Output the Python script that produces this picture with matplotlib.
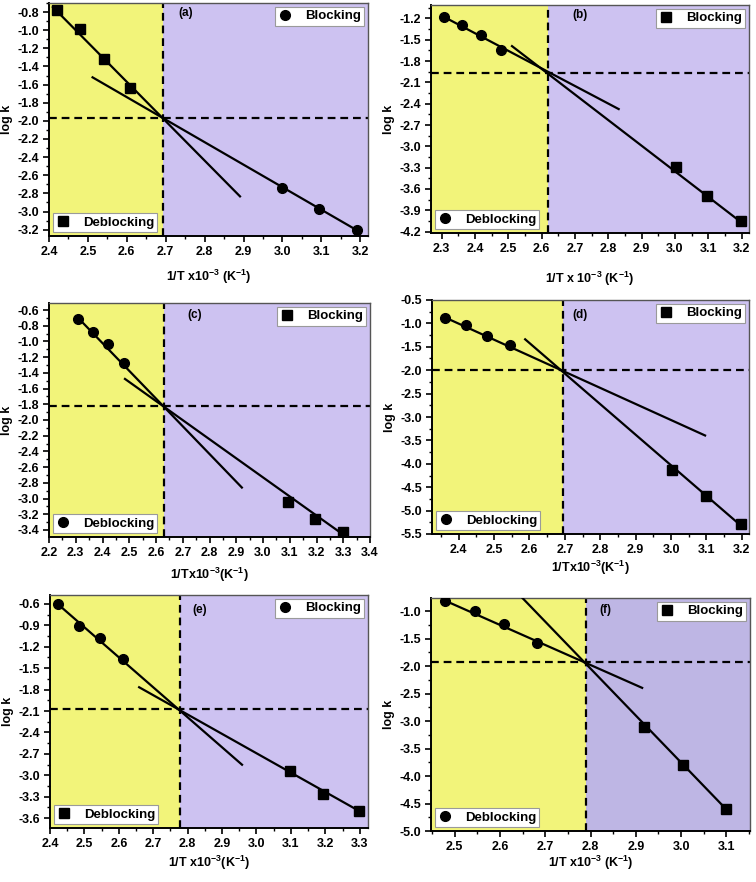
import matplotlib
matplotlib.use('Agg')
import matplotlib.pyplot as plt
from matplotlib.ticker import MultipleLocator, FormatStrFormatter
from matplotlib.lines import Line2D

plt.rcParams['font.family'] = ['Liberation Sans', 'DejaVu Sans']
plt.rcParams['font.weight'] = 'bold'
plt.rcParams['axes.unicode_minus'] = False
plt.rcParams['mathtext.fontset'] = 'custom'
plt.rcParams['mathtext.bf'] = 'Liberation Sans:bold'
plt.rcParams['mathtext.rm'] = 'Liberation Sans:bold'
plt.rcParams['mathtext.default'] = 'bf'

# ---- data ----
# (a)
a_left_x = [2.42, 2.479, 2.542, 2.609]
a_left_y = [-0.78, -0.99, -1.316, -1.642]
a_right_x = [2.998, 3.093, 3.191]
a_right_y = [-2.741, -2.972, -3.207]
a_fit1_x = [2.41, 2.891]
a_fit1_y = [-0.745, -2.833]
a_fit2_x = [2.512, 3.196]
a_fit2_y = [-1.52, -3.218]
a_cross = (2.694, -1.972)

# (b)
b_left_x = [2.306, 2.361, 2.419, 2.477]
b_left_y = [-1.177, -1.298, -1.439, -1.65]
b_right_x = [3.004, 3.097, 3.197]
b_right_y = [-3.295, -3.694, -4.045]
b_fit1_x = [2.306, 2.831]
b_fit1_y = [-1.175, -2.475]
b_fit2_x = [2.511, 3.199]
b_fit2_y = [-1.589, -4.07]
b_cross = (2.619, -1.964)

# (c)
c_left_x = [2.309, 2.365, 2.421, 2.481]
c_left_y = [-0.711, -0.881, -1.026, -1.268]
c_right_x = [3.094, 3.194, 3.3]
c_right_y = [-3.038, -3.26, -3.421]
c_fit1_x = [2.309, 2.921]
c_fit1_y = [-0.70, -2.86]
c_fit2_x = [2.484, 3.3]
c_fit2_y = [-1.477, -3.46]
c_cross = (2.631, -1.817)

# (d)
d_left_x = [2.363, 2.42, 2.479, 2.545]
d_left_y = [-0.877, -1.034, -1.269, -1.462]
d_right_x = [3.004, 3.098, 3.197]
d_right_y = [-4.127, -4.682, -5.287]
d_fit1_x = [2.363, 3.096]
d_fit1_y = [-0.877, -3.395]
d_fit2_x = [2.588, 3.197]
d_fit2_y = [-1.34, -5.32]
d_cross = (2.696, -1.994)

# (e)
e_left_x = [2.424, 2.485, 2.545, 2.613]
e_left_y = [-0.605, -0.903, -1.08, -1.37]
e_right_x = [3.097, 3.194, 3.298]
e_right_y = [-2.947, -3.26, -3.507]
e_fit1_x = [2.42, 2.958]
e_fit1_y = [-0.59, -2.853]
e_fit2_x = [2.659, 3.305]
e_fit2_y = [-1.767, -3.52]
e_cross = (2.778, -2.074)

# (f)
f_left_x = [2.479, 2.544, 2.61, 2.681]
f_left_y = [-0.806, -1.0, -1.224, -1.576]
f_right_x = [2.917, 3.004, 3.099]
f_right_y = [-3.109, -3.8, -4.594]
f_fit1_x = [2.479, 2.914]
f_fit1_y = [-0.806, -2.394]
f_fit2_x = [2.65, 3.099]
f_fit2_y = [-0.76, -4.6]
f_cross = (2.79, -1.927)

panels = [
    dict(tag='(a)', lx=a_left_x, ly=a_left_y, rx=a_right_x, ry=a_right_y,
         f1x=a_fit1_x, f1y=a_fit1_y, f2x=a_fit2_x, f2y=a_fit2_y, cross=a_cross,
         lm='s', rm='o', llab='Deblocking', rlab='Blocking',
         xlim=(2.4, 3.22), ylim=(-3.27, -0.70), ystep=0.2,
         xlabel='1/T x10$^{-3}$ (K$^{-1}$)', lpad=7,
         pos=(49, 368, 3, 236), tagx=0.43, tagy=0.955, purple='#CDC2F1'),
    dict(tag='(b)', lx=b_left_x, ly=b_left_y, rx=b_right_x, ry=b_right_y,
         f1x=b_fit1_x, f1y=b_fit1_y, f2x=b_fit2_x, f2y=b_fit2_y, cross=b_cross,
         lm='o', rm='s', llab='Deblocking', rlab='Blocking',
         xlim=(2.268, 3.222), ylim=(-4.22, -1.01), ystep=0.3,
         xlabel='1/T x 10$^{-3}$ (K$^{-1}$)', lpad=11,
         pos=(431, 749, 5, 233), tagx=0.47, tagy=0.955, purple='#CDC2F1'),
    dict(tag='(c)', lx=c_left_x, ly=c_left_y, rx=c_right_x, ry=c_right_y,
         f1x=c_fit1_x, f1y=c_fit1_y, f2x=c_fit2_x, f2y=c_fit2_y, cross=c_cross,
         lm='o', rm='s', llab='Deblocking', rlab='Blocking',
         xlim=(2.2, 3.40), ylim=(-3.49, -0.51), ystep=0.2,
         xlabel='1/Tx10$^{-3}$(K$^{-1}$)', lpad=5,
         pos=(49, 370, 303, 537), tagx=0.455, tagy=0.95, purple='#CDC2F1'),
    dict(tag='(d)', lx=d_left_x, ly=d_left_y, rx=d_right_x, ry=d_right_y,
         f1x=d_fit1_x, f1y=d_fit1_y, f2x=d_fit2_x, f2y=d_fit2_y, cross=d_cross,
         lm='o', rm='s', llab='Deblocking', rlab='Blocking',
         xlim=(2.325, 3.22), ylim=(-5.5, -0.5), ystep=0.5,
         xlabel='1/Tx10$^{-3}$(K$^{-1}$)', lpad=2,
         pos=(432, 749, 300, 534), tagx=0.466, tagy=0.935, purple='#CDC2F1'),
    dict(tag='(e)', lx=e_left_x, ly=e_left_y, rx=e_right_x, ry=e_right_y,
         f1x=e_fit1_x, f1y=e_fit1_y, f2x=e_fit2_x, f2y=e_fit2_y, cross=e_cross,
         lm='o', rm='s', llab='Blocking', rlab='Deblocking',
         xlim=(2.4, 3.324), ylim=(-3.74, -0.474), ystep=0.3,
         xlabel='1/T x10$^{-3}$(K$^{-1}$)', lpad=3,
         pos=(50, 368, 595, 828), tagx=0.47, tagy=0.935, purple='#CDC2F1'),
    dict(tag='(f)', lx=f_left_x, ly=f_left_y, rx=f_right_x, ry=f_right_y,
         f1x=f_fit1_x, f1y=f_fit1_y, f2x=f_fit2_x, f2y=f_fit2_y, cross=f_cross,
         lm='o', rm='s', llab='Deblocking', rlab='Blocking',
         xlim=(2.448, 3.152), ylim=(-5.0, -0.758), ystep=0.5,
         xlabel='1/T x10$^{-3}$ (K$^{-1}$)', lpad=1,
         pos=(431, 750, 598, 831), tagx=0.548, tagy=0.95, purple='#BEB6E4'),
]

W, H = 756, 882
fig = plt.figure(figsize=(W / 100, H / 100), dpi=100)

for p in panels:
    x0, x1, y0, y1 = p['pos']
    ax = fig.add_axes([x0 / W, 1 - y1 / H, (x1 - x0) / W, (y1 - y0) / H])
    ax.set_xlim(*p['xlim'])
    ax.set_ylim(*p['ylim'])
    cx, cy = p['cross']
    # shaded regions
    ax.axvspan(p['xlim'][0], cx, color='#F2F47A', zorder=0, lw=0)
    ax.axvspan(cx, p['xlim'][1], color=p['purple'], zorder=0, lw=0)
    # dashed guides through the crossing point
    ax.axvline(cx, color='black', lw=1.6, dashes=(3.5, 2.2), zorder=2)
    ax.axhline(cy, color='black', lw=1.6, dashes=(3.5, 2.2), zorder=2)
    # fitted lines
    ax.plot(p['f1x'], p['f1y'], color='black', lw=1.6, zorder=3)
    ax.plot(p['f2x'], p['f2y'], color='black', lw=1.6, zorder=3)
    # points
    ax.plot(p['lx'], p['ly'], ls='none', marker=p['lm'], ms=7, color='black', zorder=4)
    ax.plot(p['rx'], p['ry'], ls='none', marker=p['rm'], ms=7, color='black', zorder=4)

    markers = {p['llab']: p['lm'], p['rlab']: p['rm']}
    leg_kw = dict(frameon=True, fancybox=False, framealpha=1, edgecolor='#9a9a9a',
                  handlelength=1.0, handletextpad=1.0, borderpad=0.25,
                  borderaxespad=0.3, prop={'weight': 'bold', 'size': 9.5})
    h_b = Line2D([], [], ls='none', marker=markers['Blocking'], ms=7, color='black')
    h_d = Line2D([], [], ls='none', marker=markers['Deblocking'], ms=7, color='black')
    leg1 = ax.legend([h_b], ['Blocking'], loc='upper right', **leg_kw)
    leg1.get_frame().set_linewidth(0.8)
    ax.add_artist(leg1)
    leg2 = ax.legend([h_d], ['Deblocking'], loc='lower left', **leg_kw)
    leg2.get_frame().set_linewidth(0.8)

    ax.text(p['tagx'], p['tagy'], p['tag'], transform=ax.transAxes, ha='center',
            va='center', fontsize=8.5, fontweight='bold')

    ax.xaxis.set_major_locator(MultipleLocator(0.1))
    ax.xaxis.set_minor_locator(MultipleLocator(0.05))
    ax.yaxis.set_major_locator(MultipleLocator(p['ystep']))
    ax.yaxis.set_minor_locator(MultipleLocator(p['ystep'] / 2))
    ax.xaxis.set_major_formatter(FormatStrFormatter('%.1f'))
    ax.yaxis.set_major_formatter(FormatStrFormatter('%.1f'))
    ax.tick_params(which='major', direction='out', length=4, width=1.2, labelsize=9,
                   top=False, right=False, pad=3)
    ax.tick_params(which='minor', direction='out', length=2.2, width=1.0,
                   top=False, right=False)
    for lab in ax.get_xticklabels() + ax.get_yticklabels():
        lab.set_fontweight('bold')
    for side in ['left', 'bottom']:
        ax.spines[side].set_linewidth(1.4)
    for side in ['top', 'right']:
        ax.spines[side].set_linewidth(1.0)
        ax.spines[side].set_color('#555555')
    ax.set_xlabel(p['xlabel'], fontsize=9, fontweight='bold', labelpad=p['lpad'])
    ax.set_ylabel('log k', fontsize=9, fontweight='bold', labelpad=3)

fig.savefig('out.png', dpi=100, facecolor='white')
